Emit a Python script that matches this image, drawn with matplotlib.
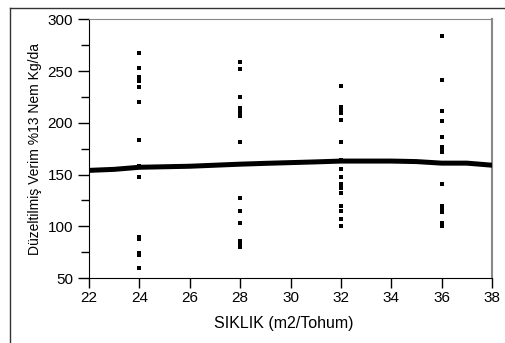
import matplotlib
matplotlib.use("Agg")
import matplotlib.pyplot as plt
from matplotlib.lines import Line2D
from matplotlib.ticker import MultipleLocator

plt.rcParams['font.family'] = ['Liberation Sans', 'DejaVu Sans']

# Yield observations per sowing density
x24 = [24] * 14
y24 = [267, 253, 244, 240, 235, 220, 183, 158, 148, 90, 88, 74, 72, 60]
x28 = [28] * 13
y28 = [259, 252, 225, 214, 210, 207, 181, 127, 115, 103, 86, 83, 80]
x32 = [32] * 16
y32 = [236, 215, 212, 209, 203, 181, 164, 155, 148, 141, 137, 132, 120, 115, 107, 100]
x36 = [36] * 14
y36 = [284, 241, 211, 202, 186, 177, 175, 172, 141, 120, 117, 114, 103, 100]

# Smoothed trend
trend_x = [22, 23, 24, 25, 26, 27, 28, 29, 30, 31, 32, 33, 34, 35, 36, 37, 38]
trend_y = [154, 155, 157, 157.5, 158, 159, 160, 160.8, 161.5, 162.2, 163, 163, 163, 162.5, 161, 161, 159]

xticks = [22, 24, 26, 28, 30, 32, 34, 36, 38]
yticks = [50, 100, 150, 200, 250, 300]

fig = plt.figure(figsize=(5.05, 3.43), dpi=100)
ax = fig.add_axes([89 / 505, 1 - 278 / 343, (492 - 89) / 505, (278 - 19.3) / 343])

xs = x24 + x28 + x32 + x36
ys = y24 + y28 + y32 + y36
ax.scatter(xs, ys, marker='s', s=10, color='black', linewidths=0, zorder=3)
ax.plot(trend_x, trend_y, color='black', lw=3.6, solid_capstyle='round', zorder=4)

ax.set_xlim(22, 38)
ax.set_ylim(50, 300)
ax.set_xticks(xticks)
ax.set_yticks(yticks)
ax.yaxis.set_minor_locator(MultipleLocator(25))
ax.tick_params(axis='both', which='major', direction='out', length=8, width=1, labelsize=11, colors='black')
ax.tick_params(axis='y', which='minor', direction='out', length=5.5, width=1)
ax.tick_params(axis='x', which='major', length=7, pad=2)

ax.spines['top'].set_color('#888888')
ax.spines['right'].set_color('#888888')
ax.spines['right'].set_linewidth(1.5)
for s in ['left', 'bottom']:
    ax.spines[s].set_color('black')

ax.set_xlabel('SIKLIK (m2/Tohum)', fontsize=11.5, labelpad=5)
ax.set_ylabel('Düzeltilmiş Verim %13 Nem Kg/da', fontsize=10, labelpad=4)
ax.xaxis.set_label_coords(0.483, -0.145)

# outer frame
fig.add_artist(Line2D([10 / 505, 10 / 505], [0, 1 - 8 / 343], color='#333333', lw=1))
fig.add_artist(Line2D([10 / 505, 1], [1 - 8 / 343, 1 - 8 / 343], color='#333333', lw=1))

fig.savefig('out.png', dpi=100)
